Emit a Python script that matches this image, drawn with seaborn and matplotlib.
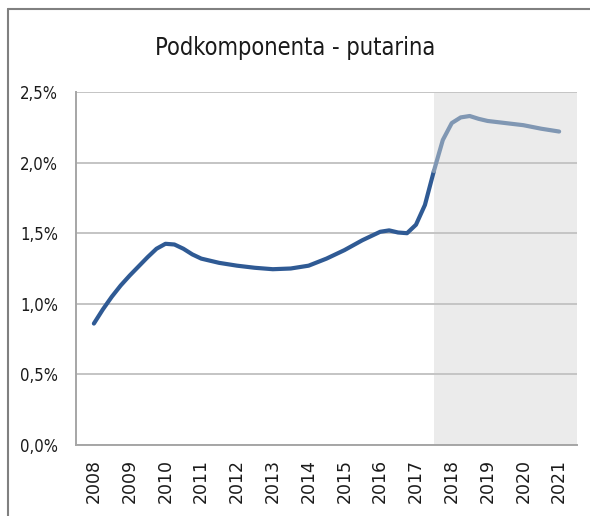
import numpy as np
import pandas as pd
import matplotlib
matplotlib.use("Agg")
import matplotlib.pyplot as plt
import seaborn as sns
from matplotlib.lines import Line2D

# values (quarter-year steps where it bends)
years_hist = [2008.0, 2008.25, 2008.5, 2008.75, 2009.0, 2009.25, 2009.5, 2009.75,
              2010.0, 2010.25, 2010.5, 2010.75, 2011.0, 2011.5, 2012.0, 2012.5,
              2013.0, 2013.5, 2014.0, 2014.5, 2015.0, 2015.5, 2016.0, 2016.25,
              2016.5, 2016.75, 2017.0, 2017.25, 2017.5]
share_hist = [0.86, 0.96, 1.05, 1.13, 1.20, 1.265, 1.33, 1.39,
              1.425, 1.42, 1.39, 1.35, 1.32, 1.29, 1.27, 1.255,
              1.245, 1.25, 1.27, 1.32, 1.38, 1.45, 1.51, 1.52,
              1.505, 1.50, 1.56, 1.70, 1.94]

years_proj = [2017.5, 2017.75, 2018.0, 2018.25, 2018.5, 2018.75, 2019.0,
              2019.5, 2020.0, 2020.5, 2021.0]
share_proj = [1.94, 2.16, 2.28, 2.32, 2.33, 2.31, 2.295,
              2.28, 2.265, 2.24, 2.22]

year_ticks = list(range(2008, 2022))
y_ticks = [0.0, 0.5, 1.0, 1.5, 2.0, 2.5]
y_labels = ["0,0%", "0,5%", "1,0%", "1,5%", "2,0%", "2,5%"]

title = "Podkomponenta - putarina"

df = pd.concat([
    pd.DataFrame({"godina": years_hist, "udio": share_hist, "period": "hist"}),
    pd.DataFrame({"godina": years_proj, "udio": share_proj, "period": "proj"}),
], ignore_index=True)

sns.set_style("white")
plt.rcParams["font.family"] = ["DejaVu Sans"]

fig = plt.figure(figsize=(5.9, 5.16), dpi=100)
ax = fig.add_axes([0.1288, 0.1376, 0.978 - 0.1288, 0.8217 - 0.1376])

# shaded forecast area
ax.axvspan(2017.5, 2021.5, color="#EBEBEB", lw=0, zorder=0)

for yv in y_ticks:
    ax.axhline(yv, color="#C4C4C4", lw=1.4, zorder=1)

sns.lineplot(data=df, x="godina", y="udio", hue="period",
             palette={"hist": "#2F5A94", "proj": "#8097B3"},
             lw=3.0, legend=False, ax=ax, zorder=3)
for ln in ax.get_lines():
    ln.set_solid_capstyle("round")
    ln.set_solid_joinstyle("round")

ax.set_xlim(2007.5, 2021.5)
ax.set_ylim(0, 2.5)
ax.set_xticks(year_ticks)
ax.set_xticklabels([str(y) for y in year_ticks], rotation=90,
                   fontsize=12.5, color="#1a1a1a")
ax.set_yticks(y_ticks)
ax.set_yticklabels(y_labels, fontsize=12, color="#1a1a1a",
                   fontstretch="condensed")
ax.tick_params(axis="x", length=0, pad=10)
ax.tick_params(axis="y", length=0, pad=13)
ax.set_xlabel("")
ax.set_ylabel("")

for side in ["top", "right"]:
    ax.spines[side].set_visible(False)
for side in ["left", "bottom"]:
    ax.spines[side].set_color("#A6A6A6")
    ax.spines[side].set_linewidth(1.4)

fig.text(0.5, 0.907, title, ha="center", va="center", fontsize=17,
         color="#1a1a1a", fontstretch="condensed")

# outer chart frame (top and left edges visible)
fig.add_artist(Line2D([8 / 590, 8 / 590], [0, 1 - 9 / 516],
                      color="#808080", lw=1.5, transform=fig.transFigure))
fig.add_artist(Line2D([8 / 590, 1], [1 - 9 / 516, 1 - 9 / 516],
                      color="#808080", lw=1.5, transform=fig.transFigure))

fig.savefig("out.png", dpi=100)
